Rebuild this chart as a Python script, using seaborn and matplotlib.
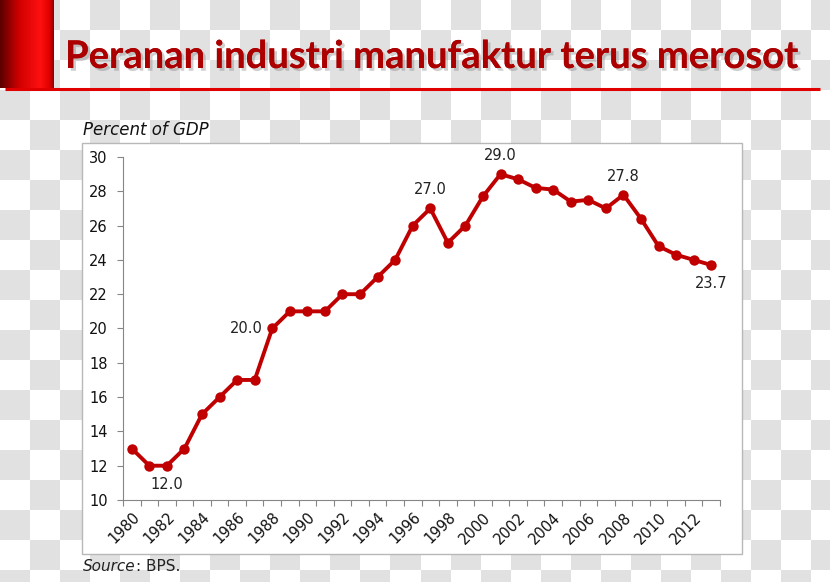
import numpy as np
import pandas as pd
import matplotlib
matplotlib.use("Agg")
import matplotlib.pyplot as plt
import matplotlib.patheffects as pe
from matplotlib.colors import LinearSegmentedColormap
from matplotlib.patches import Rectangle
import seaborn as sns

# ---- data ----
years = list(range(1980, 2014))
share = [13.0, 12.0, 12.0, 13.0, 15.0, 16.0, 17.0, 17.0, 20.0, 21.0,
         21.0, 21.0, 22.0, 22.0, 23.0, 24.0, 26.0, 27.0, 25.0, 26.0,
         27.7, 29.0, 28.7, 28.2, 28.1, 27.4, 27.5, 27.0, 27.8, 26.4,
         24.8, 24.3, 24.0, 23.7]
label_years = [1982, 1988, 1997, 2001, 2008, 2013]
label_pos = ["below", "left", "above", "above", "above", "below"]
y_ticks = list(range(10, 31, 2))
x_ticks = list(range(1980, 2013, 2))
title = "Peranan industri manufaktur terus merosot"
ylabel = "Percent of GDP"

df = pd.DataFrame({"year": years, "share": share})

sns.set_theme(style="white")
plt.rcParams["font.family"] = ["DejaVu Sans"]

W, H = 830, 582
fig = plt.figure(figsize=(W / 100, H / 100), dpi=100)

# checkerboard background (transparency pattern)
bg = fig.add_axes([0, 0, 1, 1])
bg.set_zorder(-5)
ii, jj = np.indices((H, W))
chk = ((ii // 30 + jj // 30) % 2).astype(float)
bg.imshow(chk, cmap=LinearSegmentedColormap.from_list("c", ["#ffffff", "#e1e1e1"]),
          extent=(0, W, H, 0), interpolation="nearest", aspect="auto", zorder=0)
bg.set_xlim(0, W); bg.set_ylim(H, 0)
bg.axis("off")
# chart box
bg.add_patch(Rectangle((82, 143), 742 - 82, 554 - 143, facecolor="white",
                       edgecolor="#b8b8b8", lw=1.0, zorder=2))
# red rule
bg.plot([5, 820], [89, 89], color="#e00000", lw=2.2, solid_capstyle="butt", zorder=3)

# red gradient bar top-left
bar = fig.add_axes([0, 1 - 88 / H, 53 / W, 88 / H])
grad = np.linspace(0, 1, 200)[None, :]
bar.imshow(grad, cmap=LinearSegmentedColormap.from_list(
    "r", [(0, "#5a0000"), (0.35, "#d00000"), (0.75, "#ff1010"), (0.92, "#e00000"), (1, "#900000")]),
    aspect="auto", extent=(0, 1, 0, 1))
bar.axis("off")

# title
fig.text(65 / W, 1 - 68 / H, title, fontsize=27.5, fontweight="bold", family="Lato",
         color="#ac0000", ha="left", va="baseline",
         path_effects=[pe.withSimplePatchShadow(offset=(2, -2), shadow_rgbFace="#777777", alpha=0.35), pe.Normal()])

ax = fig.add_axes([123 / W, 1 - 500 / H, 597 / W, 343 / H])
ax.set_facecolor("none")
sns.lineplot(data=df, x="year", y="share", ax=ax, color="#c00000", lw=2.8,
             marker="o", markersize=7.5, markeredgecolor="#c00000", markeredgewidth=0)

ax.set_xlim(1979.5, 2013.5)
ax.set_ylim(10, 30)
ax.set_yticks(y_ticks)
ax.set_yticklabels([str(v) for v in y_ticks], fontsize=10.5, color="#111111")
ax.set_xticks(x_ticks)
ax.set_xticklabels([str(v) for v in x_ticks], fontsize=10.5, rotation=45,
                   ha="right", rotation_mode="anchor", color="#111111")
ax.set_xticks(np.arange(1979.5, 2014, 1), minor=True)
ax.tick_params(axis="x", which="major", length=0, pad=7)
ax.tick_params(axis="x", which="minor", length=4, width=0.8, color="#868686", direction="out", bottom=True)
ax.tick_params(axis="y", which="major", length=4, width=0.8, color="#868686", direction="out", left=True, pad=7)
for s in ["top", "right"]:
    ax.spines[s].set_visible(False)
for s in ["left", "bottom"]:
    ax.spines[s].set_color("#868686")
    ax.spines[s].set_linewidth(0.8)
ax.set_xlabel("")
ax.set_ylabel("")
ax.grid(False)

for yr, pos in zip(label_years, label_pos):
    v = share[years.index(yr)]
    if pos == "above":
        off, ha, va = (0, 8), "center", "bottom"
    elif pos == "below":
        off, ha, va = (0, -8), "center", "top"
    else:
        off, ha, va = (-7, 0), "right", "center"
    ax.annotate(f"{v:.1f}", (yr, v), xytext=off, textcoords="offset points",
                ha=ha, va=va, fontsize=10.5, color="#222222")

fig.text(83 / W, 1 - 135 / H, ylabel, fontsize=12, style="italic", color="#111111",
         ha="left", va="baseline")

src = fig.text(83 / W, 1 - 571 / H, "Source", fontsize=11, style="italic",
               color="#222222", ha="left", va="baseline")
ax.annotate(": BPS.", xy=(1, 0), xycoords=src, fontsize=11, color="#222222",
            ha="left", va="bottom", annotation_clip=False)

fig.savefig("out.png", dpi=100)
